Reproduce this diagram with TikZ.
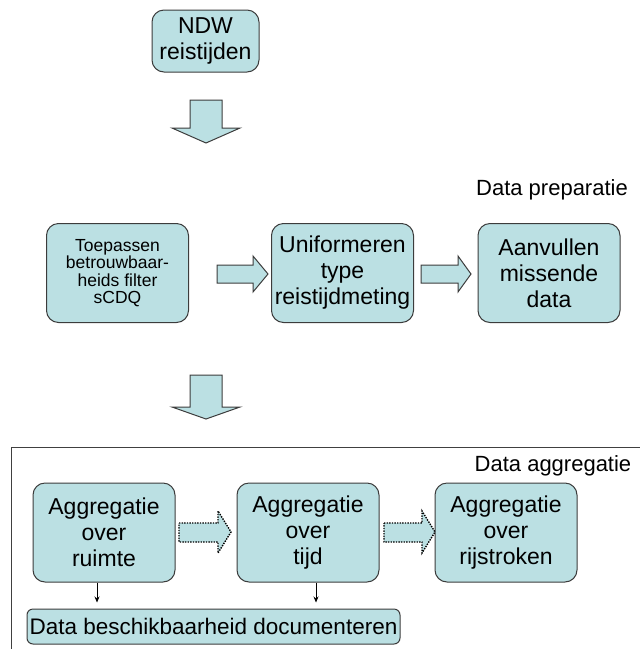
\documentclass[tikz,border=0pt]{standalone}
\usepackage{fontspec}
\setmainfont{Liberation Sans}
\usetikzlibrary{positioning,arrows.meta}
\definecolor{boxfill}{RGB}{187,224,227}
\definecolor{boxline}{RGB}{60,60,60}
\tikzset{
  stap/.style={draw=boxline, fill=boxfill, rounded corners=12pt, line width=1pt,
    align=center, inner sep=0pt, minimum width=142pt, minimum height=99pt,
    font=\fontsize{23}{26}\selectfont},
  kop/.style={font=\fontsize{22}{26}\selectfont, inner sep=0pt},
  fat/.style={draw=boxline, fill=boxfill, line width=1pt, line join=miter},
  fatdot/.style={fat, draw=black, line width=1.4pt, dash pattern=on 1.4pt off 1.2pt}
}
\begin{document}
\begin{tikzpicture}[x=1pt,y=-1pt,on grid]
   \useasboundingbox (0,0) rectangle (640,649);
   % invoer
   \node[stap, minimum width=107pt, minimum height=62pt] (ndw) at (205.5,41) {NDW\\reistijden};
   \draw[fat] (190,100) -- (222,100) -- (222,128) -- (240,128) -- (206,143)
              -- (172,128) -- (190,128) -- cycle;
   % data preparatie
   \node[kop] (prep) at (552,190) {Data preparatie};
   \node[stap, font=\fontsize{17.5}{17.5}\selectfont] (toep) at (117.5,273) {Toepassen\\betrouwbaar-\\heids filter\\sCDQ};
   \node[stap] (unif) [right=225pt of toep] {Uniformeren\\type\\reistijdmeting};
   \node[stap] (aanv) [right=206.5pt of unif] {Aanvullen\\missende\\data};
   \draw[fat] (217,265) -- (253,265) -- (253,256) -- (268,274) -- (253,292)
              -- (253,283) -- (217,283) -- cycle;
   \draw[fat] (421,265) -- (458,265) -- (458,256) -- (471,274) -- (458,292)
              -- (458,283) -- (421,283) -- cycle;
   \draw[fat] (190,375) -- (222,375) -- (222,407) -- (240,407) -- (206,419)
              -- (172,407) -- (190,407) -- cycle;
   % data aggregatie
   \draw[draw=black!75, line width=1pt] (641,447) -- (11,447) -- (11,650);
   \node[kop] (aggr) at (553,466) {Data aggregatie};
   \node[stap] (ruimte) at (104,532.5) {Aggregatie\\over\\ruimte};
   \node[stap] (tijd) [right=204pt of ruimte] {Aggregatie\\over\\tijd};
   \node[stap] (strook) [right=198pt of tijd] {Aggregatie\\over\\rijstroken};
   \draw[fatdot] (179,523) -- (218,523) -- (218,511) -- (231,532) -- (218,553)
                 -- (218,542) -- (179,542) -- cycle;
   \draw[fatdot] (384,523) -- (422,523) -- (422,511) -- (435,532) -- (422,553)
                 -- (422,542) -- (384,542) -- cycle;
   \node[stap, minimum width=373pt, minimum height=35pt, rounded corners=6pt,
         font=\fontsize{22.5}{26}\selectfont] (docu) at (213.5,626.5) {Data beschikbaarheid documenteren};
   \path[-{Stealth[length=6pt,width=5pt]}, line width=0.8pt, shorten >=6pt]
    ([xshift=-7pt]ruimte.south) edge ([xshift=-7pt]ruimte.south |- docu.north)
    ([xshift=8pt]tijd.south) edge ([xshift=8pt]tijd.south |- docu.north);
\end{tikzpicture}
\end{document}
